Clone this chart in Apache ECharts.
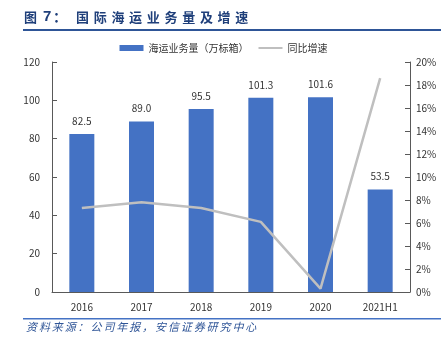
<!DOCTYPE html>
<html>
<head>
<meta charset="utf-8">
<script src="https://cdn.jsdelivr.net/npm/echarts@6/dist/echarts.min.js"></script>
<style>
  html, body { margin: 0; padding: 0; background: #fff; }
  #main { width: 447px; height: 350px; }
</style>
</head>
<body>
<div id="main"></div>
<script>
// 数据
var categories = ['2016', '2017', '2018', '2019', '2020', '2021H1'];
var volume = [82.5, 89.0, 95.5, 101.3, 101.6, 53.5];
var growth = [7.3, 7.8, 7.3, 6.1, 0.3, 18.6];
var titleText = '国际海运业务量及增速';
var sourceText = '资料来源：公司年报，安信证券研究中心';

// 逐字排列文字（模拟原图的字间距）
function spaced(text, x, y, pitch, font, fill) {
  var list = [];
  for (var i = 0; i < text.length; i++) {
    list.push({
      type: 'text',
      style: { text: text[i], x: x + i * pitch, y: y, verticalAlign: 'middle', font: font, fill: fill }
    });
  }
  return list;
}

var myChart = echarts.init(document.getElementById('main'));
var font = '"Microsoft YaHei", "Noto Sans CJK SC", sans-serif';
var titleColor = '#1F3F7A';
var graphics = [
  { type: 'text', style: { text: '图', x: 24, y: 17, verticalAlign: 'middle', font: 'bold 13px "Noto Sans CJK SC"', fill: titleColor } },
  { type: 'text', style: { text: '7', x: 43, y: 17, verticalAlign: 'middle', font: 'bold 15px "Liberation Sans"', fill: titleColor } },
  { type: 'text', style: { text: '：', x: 53, y: 17, verticalAlign: 'middle', font: 'bold 14px "Noto Sans CJK SC"', fill: titleColor } },
  { type: 'rect', shape: { x: 23, y: 29, width: 418, height: 2 }, style: { fill: '#2E5597' } },
  { type: 'rect', shape: { x: 23, y: 318, width: 418, height: 1.5 }, style: { fill: '#4472C4' } }
];
graphics = graphics
  .concat(spaced(titleText, 76, 17, 17.7, 'bold 13px "Noto Sans CJK SC"', titleColor))
  .concat(spaced(sourceText, 26, 327, 12.9, 'italic 11px "Noto Sans CJK SC"', '#2F5597'));

const option = {
  animation: false,
  textStyle: { fontFamily: font },
  graphic: graphics,
  legend: {
    top: 38,
    left: 'center',
    itemGap: 10,
    itemWidth: 24,
    itemHeight: 6,
    textStyle: { fontSize: 10, color: '#333' },
    data: [
      { name: '海运业务量（万标箱）', icon: 'rect' },
      { name: '同比增速', icon: 'path://M0,0H24V2H0Z' }
    ]
  },
  grid: { left: 52, right: 37, top: 62, bottom: 58 },
  xAxis: [{
    type: 'category',
    data: categories,
    axisLine: { lineStyle: { color: '#595959' } },
    axisTick: { inside: true, lineStyle: { color: '#595959' } },
    axisLabel: { color: '#333', fontSize: 10, margin: 10 }
  }],
  yAxis: [
    {
      type: 'value', min: 0, max: 120, interval: 20,
      axisLine: { show: true, lineStyle: { color: '#595959' } },
      axisTick: { show: true, inside: true, lineStyle: { color: '#595959' } },
      axisLabel: { color: '#333', fontSize: 10, margin: 12 },
      splitLine: { show: false }
    },
    {
      type: 'value', min: 0, max: 20, interval: 2,
      axisLine: { show: true, lineStyle: { color: '#595959' } },
      axisTick: { show: true, inside: true, lineStyle: { color: '#595959' } },
      axisLabel: { color: '#333', fontSize: 10, margin: 6, formatter: '{value}%' },
      splitLine: { show: false }
    }
  ],
  series: [
    {
      name: '海运业务量（万标箱）',
      type: 'bar',
      data: volume,
      barWidth: 25,
      itemStyle: { color: '#4472C4' },
      label: {
        show: true, position: 'top', distance: 8, color: '#333', fontSize: 10,
        formatter: function (p) { return p.value.toFixed(1); }
      }
    },
    {
      name: '同比增速',
      type: 'line',
      yAxisIndex: 1,
      data: growth,
      symbol: 'none',
      lineStyle: { color: '#BFBFBF', width: 2.5 },
      itemStyle: { color: '#BFBFBF' }
    }
  ]
};
myChart.setOption(option);
</script>
</body>
</html>
